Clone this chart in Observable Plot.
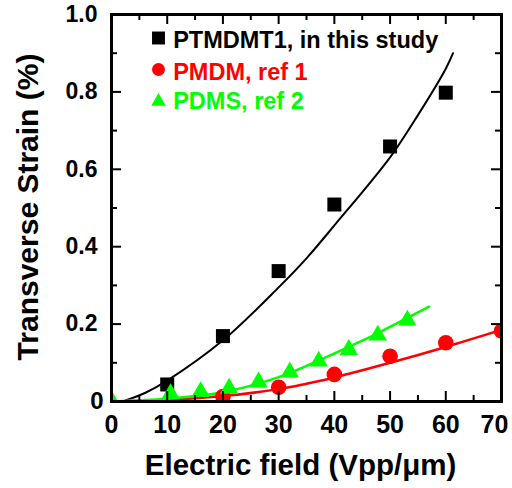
<!DOCTYPE html>
<html>
<head>
<meta charset="utf-8">
<script src="https://cdn.jsdelivr.net/npm/d3@7"></script>
<script src="https://cdn.jsdelivr.net/npm/@observablehq/plot@0.6"></script>
<style>
  html, body { margin: 0; padding: 0; background: white; overflow: hidden; }
</style>
</head>
<body>
<div id="chart"></div>
<script>
// ---- data ----
const ptmdmtX = [10, 20, 30, 40, 50, 60];
const ptmdmtY = [0.044, 0.169, 0.337, 0.509, 0.659, 0.798];

const pmdmX = [20, 30, 40, 50, 60, 70];
const pmdmY = [0.013, 0.037, 0.070, 0.117, 0.152, 0.182];

const pdmsX = [0, 10.6, 16, 21.1, 26.4, 32, 37.2, 42.6, 47.8, 53.1];
const pdmsY = [0.002, 0.020, 0.025, 0.034, 0.050, 0.076, 0.104, 0.134, 0.171, 0.210];

// fitted curves
const ptmdmtFitX = [2, 6, 10, 20, 30, 35, 40, 50, 55, 60, 61.3];
const ptmdmtFitY = [0, 0.022, 0.054, 0.158, 0.295, 0.37, 0.455, 0.631, 0.74, 0.86, 0.90];

const pmdmFitX = [0, 10, 20, 30, 35, 40, 50, 60, 70];
const pmdmFitY = [0, 0.004, 0.014, 0.032, 0.046, 0.062, 0.100, 0.141, 0.185];

const pdmsFitX = [0, 5, 10, 15, 20, 25, 30, 35, 40, 45, 50, 57];
const pdmsFitY = [0, 0.003, 0.007, 0.014, 0.024, 0.041, 0.063, 0.092, 0.124, 0.157, 0.193, 0.245];

// ticks and labels
const xMajor = [0, 10, 20, 30, 40, 50, 60, 70];
const xMinor = [5, 15, 25, 35, 45, 55, 65];
const yMajor = [0, 0.2, 0.4, 0.6, 0.8, 1.0];
const yMinor = [0.1, 0.3, 0.5, 0.7, 0.9];

const legendLabels = ["PTMDMT1, in this study", "PMDM, ref 1", "PDMS, ref 2"];
const seriesColors = ["#000000", "#ff0000", "#00ff00"];
const seriesSymbols = ["square", "circle", "triangle"];

const xLabelParts = ["Electric field (V", "pp", "/\u03bcm)"];
const yLabel = "Transverse Strain (%)";

// ---- build tables ----
const zip = (xs, ys) => xs.map((x, i) => ({x, y: ys[i]}));
const ptmdmt = zip(ptmdmtX, ptmdmtY);
const pmdm = zip(pmdmX, pmdmY);
const pdms = zip(pdmsX, pdmsY);
const ptmdmtFit = zip(ptmdmtFitX, ptmdmtFitY);
const pmdmFit = zip(pmdmFitX, pmdmFitY);
const pdmsFit = zip(pdmsFitX, pdmsFitY);

const W = 512, H = 488;
const mL = 111, mR = 11, mT = 14, mB = 87;
const fw = W - mL - mR, fh = H - mT - mB;
const major = 10, minor = 6;

const legendRowsSym = [23.5, 55, 87];
const legendRowsText = [25.5, 57.5, 86.5];
const legendSizes = [7.3, 6.5, 5.4];

const lastX = xMajor[xMajor.length - 1];
const yFmt = d => d === 0 ? "0" : d.toFixed(1);

const marks = [
  // fit lines
  Plot.line(ptmdmtFit, {x: "x", y: "y", stroke: seriesColors[0], strokeWidth: 2, curve: "catmull-rom", clip: true}),
  Plot.line(pmdmFit, {x: "x", y: "y", stroke: seriesColors[1], strokeWidth: 2.5, curve: "catmull-rom", clip: true}),
  Plot.line(pdmsFit, {x: "x", y: "y", stroke: seriesColors[2], strokeWidth: 2.5, curve: "catmull-rom", clip: true}),
  // points
  Plot.dot(ptmdmt, {x: "x", y: "y", symbol: "square", r: 7.9, fill: seriesColors[0], stroke: "none", clip: true}),
  Plot.dot(pmdm, {x: "x", y: "y", symbol: "circle", r: 7.8, fill: seriesColors[1], stroke: "none", clip: true}),
  Plot.dot(pdms, {x: "x", y: "y", symbol: "triangle", r: 6.8, fill: seriesColors[2], stroke: "none", clip: true}),
  // inward ticks on all four sides
  Plot.tickX(xMajor, {x: d => d, insetTop: fh - major, strokeWidth: 2}),
  Plot.tickX(xMinor, {x: d => d, insetTop: fh - minor, strokeWidth: 2}),
  Plot.tickX(xMajor, {x: d => d, insetBottom: fh - major, strokeWidth: 2}),
  Plot.tickX(xMinor, {x: d => d, insetBottom: fh - minor, strokeWidth: 2}),
  Plot.tickY(yMajor, {y: d => d, insetRight: fw - major, strokeWidth: 2}),
  Plot.tickY(yMinor, {y: d => d, insetRight: fw - minor, strokeWidth: 2}),
  Plot.tickY(yMajor, {y: d => d, insetLeft: fw - major, strokeWidth: 2}),
  Plot.tickY(yMinor, {y: d => d, insetLeft: fw - minor, strokeWidth: 2}),
  // axes (labels only)
  Plot.axisX({ticks: xMajor.slice(0, -1), tickSize: 0, tickPadding: 14, fontSize: 25, fontWeight: "bold", tickFormat: d => String(d), label: null}),
  Plot.axisX({ticks: [lastX], tickSize: 0, tickPadding: 14, dx: -7, fontSize: 25, fontWeight: "bold", tickFormat: d => String(d), label: null}),
  Plot.axisY({ticks: yMajor.slice(1), tickSize: 0, tickPadding: 14, fontSize: 23, fontWeight: "bold", tickFormat: yFmt, label: null}),
  Plot.axisY({ticks: [yMajor[0]], tickSize: 0, tickPadding: 8, fontSize: 24, fontWeight: "bold", tickFormat: yFmt, label: null}),
  // axis titles
  Plot.text([xLabelParts.join("")], {frameAnchor: "bottom", textAnchor: "middle", lineAnchor: "middle", dx: -6, dy: 64.4, fontSize: 29.5, fontWeight: "bold", ariaLabel: "xtitle"}),
  Plot.text([yLabel], {frameAnchor: "left", textAnchor: "middle", lineAnchor: "middle", rotate: -90, dx: -83.6, dy: -1, fontSize: 30, fontWeight: "bold"}),
  Plot.frame({stroke: "black", strokeWidth: 3})
];

// legend
legendLabels.forEach((lab, i) => {
  marks.push(Plot.dot([lab], {frameAnchor: "top-left", dx: 47, dy: legendRowsSym[i], symbol: seriesSymbols[i], r: legendSizes[i], fill: seriesColors[i], stroke: "none"}));
  marks.push(Plot.text([lab], {frameAnchor: "top-left", dx: 61.7, dy: legendRowsText[i], textAnchor: "start", lineAnchor: "middle", fill: seriesColors[i], fontSize: 23.5, fontWeight: "bold"}));
});

const svg = Plot.plot({
  width: W,
  height: H,
  marginLeft: mL,
  marginRight: mR,
  marginTop: mT,
  marginBottom: mB,
  x: {domain: [0, 70]},
  y: {domain: [0, 1]},
  style: {fontFamily: "'Liberation Sans', Arial, Helvetica, sans-serif", fontWeight: "bold", background: "white", color: "black"},
  marks
});

// subscript in x title
const t = d3.select(svg).select('g[aria-label="xtitle"] text');
t.text(null);
t.append("tspan").text(xLabelParts[0]);
t.append("tspan").attr("dy", 6).attr("font-size", 22).text(xLabelParts[1]);
t.append("tspan").attr("dy", -6).text(xLabelParts[2]);

document.getElementById("chart").appendChild(svg);
</script>
</body>
</html>
